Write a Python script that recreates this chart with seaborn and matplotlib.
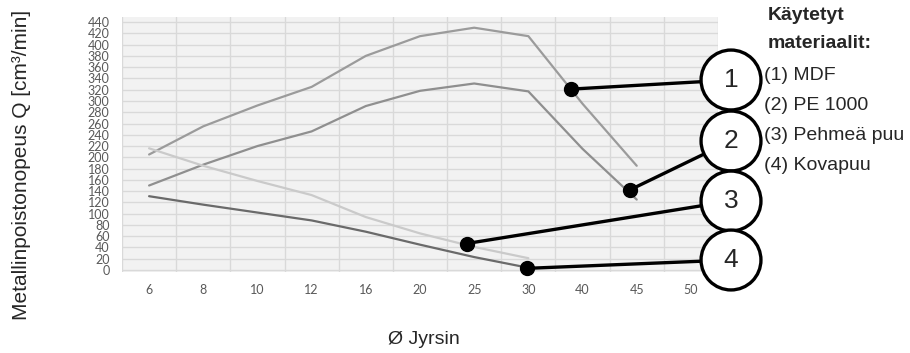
import pandas as pd
import seaborn as sns
import matplotlib.pyplot as plt
import numpy as np

# Cutter diameter categories (x axis)
diameters = ['6', '8', '10', '12', '16', '20', '25', '30', '40', '45', '50']

# Metal removal rate Q [cm3/min] per material
mdf = [205, 255, 292, 325, 380, 415, 430, 415, 295, 185, np.nan]
pe1000 = [150, 187, 220, 246, 291, 318, 331, 317, 215, 125, np.nan]
pehmea = [216, 185, 158, 133, 94, 65, 41, 21, np.nan, np.nan, np.nan]
kovapuu = [131, 116, 102, 88, 68, 45, 23, 4, np.nan, np.nan, np.nan]

materials = ['MDF', 'PE 1000', 'Pehmeä puu', 'Kovapuu']
colors = ['#9b9b9b', '#8f8f8f', '#cacaca', '#6a6a6a']

# callout dots (x as category index, y as value) and their number labels
callout_x = [7.78, 8.87, 5.86, 6.98]
callout_y = [321, 142, 47, 3]
callout_nums = ['1', '2', '3', '4']
legend_lines = ['(1) MDF', '(2) PE 1000', '(3) Pehmeä puu', '(4) Kovapuu']

rows = []
for name, vals in zip(materials, [mdf, pe1000, pehmea, kovapuu]):
    for i, v in enumerate(vals):
        rows.append({'pos': i, 'Q': v, 'Materiaali': name})
df = pd.DataFrame(rows).dropna()

sns.set_style('white')
plt.rcParams['font.family'] = ['Liberation Sans', 'DejaVu Sans']

fig = plt.figure(figsize=(9.1, 3.53), dpi=100)
ax = fig.add_axes([122 / 910, 1 - 272 / 353, 596 / 910, 255 / 353])
ax.set_facecolor('#f2f2f2')

sns.lineplot(data=df, x='pos', y='Q', hue='Materiaali', palette=colors,
             linewidth=1.6, legend=False, ax=ax, zorder=3)

ax.set_xlim(-0.5, len(diameters) - 0.5)
ax.set_ylim(-3.5, 449)
ax.set_xticks(range(len(diameters)))
ax.set_xticklabels(diameters)
ax.set_xticks(np.arange(-0.5, len(diameters), 1), minor=True)
ax.set_yticks(range(0, 441, 20))
ax.tick_params(axis='both', which='major', length=0, labelsize=9,
               labelcolor='#595959')
ax.tick_params(axis='x', which='major', pad=9)
ax.tick_params(axis='y', which='major', pad=9)
ax.tick_params(axis='x', which='minor', length=4, color='#d9d9d9', width=1)
for lbl in ax.get_xticklabels() + ax.get_yticklabels():
    lbl.set_family('Lato')

ax.grid(axis='y', which='major', color='#d9d9d9', linewidth=1)
ax.grid(axis='x', which='minor', color='#d9d9d9', linewidth=1)
ax.set_axisbelow(True)
for s in ax.spines.values():
    s.set_visible(False)
ax.set_xlabel('')
ax.set_ylabel('')

# callouts: black dot on the line, line to numbered circle
circle_px = [(731, 353 - 80), (731, 353 - 141), (731, 353 - 201), (731, 353 - 260)]
for num, cx, cy, (px, py) in zip(callout_nums, callout_x, callout_y, circle_px):
    ax.plot(cx, cy, 'o', color='black', markersize=10, zorder=6, clip_on=False)
    ax.annotate(num, xy=(cx, cy), xycoords='data', xytext=(px, py),
                textcoords='figure pixels', ha='center', va='center',
                fontsize=19, zorder=7, annotation_clip=False,
                bbox=dict(boxstyle='circle,pad=0.68', fc='white', ec='black', lw=2.4),
                arrowprops=dict(arrowstyle='-', color='black', lw=2.4,
                                shrinkA=0, shrinkB=0))

# legend text on the right
fig.text(768 / 910, 1 - 20 / 353, 'Käytetyt', fontsize=14, fontweight='bold',
         va='baseline', ha='left')
fig.text(768 / 910, 1 - 48 / 353, 'materiaalit:', fontsize=14, fontweight='bold',
         va='baseline', ha='left')
for k, txt in enumerate(legend_lines):
    fig.text(764 / 910, 1 - (80 + 30 * k) / 353, txt, fontsize=14,
             va='baseline', ha='left')

fig.text(22 / 910, 1 - 165 / 353, 'Metallinpoistonopeus Q [cm³/min]',
         fontsize=15, rotation=90, va='center', ha='center')
fig.text(424 / 910, 14 / 353, 'Ø Jyrsin', fontsize=14, va='center', ha='center')

fig.savefig('out.png', dpi=100)
